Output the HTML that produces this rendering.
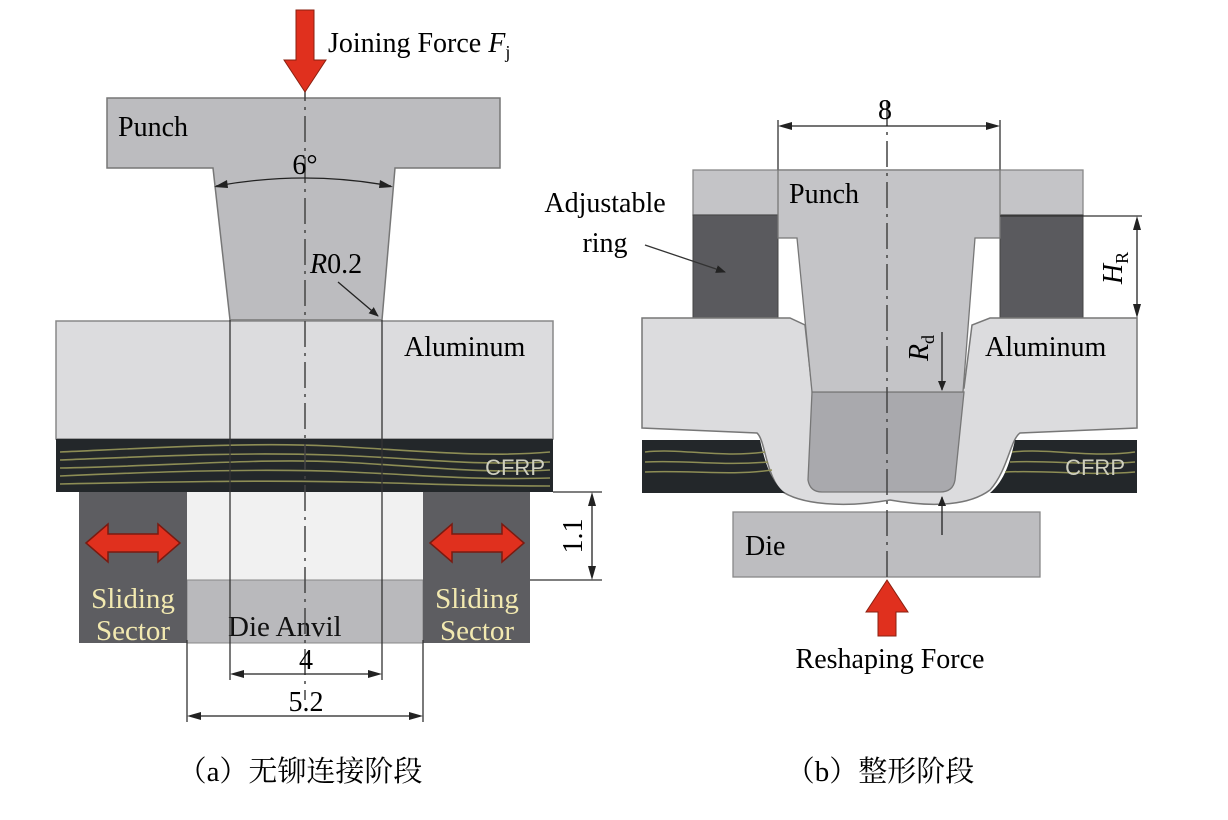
<!DOCTYPE html>
<html><head><meta charset="utf-8"><style>
html,body{margin:0;padding:0;background:#fff;}
svg{display:block;}
text{font-family:"Liberation Serif","Noto Serif CJK SC",serif;}
</style></head><body>
<svg width="1228" height="820" viewBox="0 0 1228 820" xmlns="http://www.w3.org/2000/svg">
<defs>
<marker id="ah" markerWidth="10" markerHeight="8" refX="9" refY="4" orient="auto" markerUnits="userSpaceOnUse"><path d="M0,0 L10,4 L0,8 z" fill="#222"/></marker>
</defs>

<!-- ========== (a) ========== -->
<path d="M107,98 H500 V168 H395 L382,320 H230 L213,168 H107 Z" fill="#bcbcbf" stroke="#777" stroke-width="1.5"/>
<rect x="56" y="321" width="497" height="118" fill="#dcdcde" stroke="#888" stroke-width="1.5"/>
<rect x="56" y="439" width="497" height="53" fill="#23272a"/>
<g stroke="#8d8d55" stroke-width="1.6" fill="none">
<path d="M60,452 C150,448 250,442 330,446 S480,458 550,452"/>
<path d="M60,460 C160,456 240,452 330,455 S470,466 550,462"/>
<path d="M60,468 C170,466 260,458 340,462 S480,474 550,470"/>
<path d="M60,476 C150,472 260,468 350,472 S470,480 550,478"/>
<path d="M60,484 C160,482 260,480 350,482 S470,486 550,486"/>
</g>
<text x="545" y="475" style="font-family:'Liberation Sans',sans-serif" font-size="22" fill="#cfcfbf" text-anchor="end">CFRP</text>
<rect x="187" y="492" width="236" height="88" fill="#f1f1f1"/>
<rect x="187" y="580" width="236" height="63" fill="#b9b9bc" stroke="#888" stroke-width="1"/>
<rect x="79" y="492" width="108" height="151" fill="#5d5d61"/>
<rect x="423" y="492" width="107" height="151" fill="#5d5d61"/>
<g fill="#e0301e" stroke="#7a1a10" stroke-width="1.5">
<path d="M86,543 L108,524 V534 H158 V524 L180,543 L158,562 V552 H108 V562 Z"/>
<path d="M430,543 L452,524 V534 H502 V524 L524,543 L502,562 V552 H452 V562 Z"/>
</g>
<text x="133" y="608" font-size="29" fill="#f2e9b0" text-anchor="middle">Sliding</text>
<text x="133" y="640" font-size="29" fill="#f2e9b0" text-anchor="middle">Sector</text>
<text x="477" y="608" font-size="29" fill="#f2e9b0" text-anchor="middle">Sliding</text>
<text x="477" y="640" font-size="29" fill="#f2e9b0" text-anchor="middle">Sector</text>
<text x="228" y="636" font-size="29" fill="#111">Die Anvil</text>
<g stroke="#333" stroke-width="1.3">
<line x1="230" y1="320" x2="230" y2="680"/>
<line x1="382" y1="320" x2="382" y2="680"/>
<line x1="187" y1="640" x2="187" y2="722"/>
<line x1="423" y1="640" x2="423" y2="722"/>
<line x1="553" y1="492" x2="602" y2="492"/>
<line x1="530" y1="580" x2="602" y2="580"/>
</g>
<line x1="305" y1="75" x2="305" y2="700" stroke="#444" stroke-width="1.5" stroke-dasharray="26,6,3,6"/>
<g stroke="#222" stroke-width="1.3">
<line x1="240" y1="674" x2="372" y2="674" />
<line x1="197" y1="716" x2="413" y2="716"/>
<line x1="592" y1="502" x2="592" y2="570"/>
</g>
<path d="M230,674 L244,670 L244,678 Z M382,674 L368,670 L368,678 Z M187,716 L201,712 L201,720 Z M423,716 L409,712 L409,720 Z M592,492 L588,506 L596,506 Z M592,580 L588,566 L596,566 Z" fill="#222"/>
<text x="306" y="669" font-size="28" text-anchor="middle">4</text>
<text x="306" y="711" font-size="28" text-anchor="middle">5.2</text>
<text transform="translate(582,536) rotate(-90)" font-size="28" text-anchor="middle">1.1</text>
<path d="M216,186 Q305,170 391,186" fill="none" stroke="#222" stroke-width="1.3"/>
<path d="M214,187 L227,180 L228,188 Z M393,187 L380,180 L379,188 Z" fill="#222"/>
<text x="305" y="174" font-size="28" text-anchor="middle">6°</text>
<text x="310" y="273" font-size="28"><tspan font-style="italic">R</tspan>0.2</text>
<line x1="338" y1="282" x2="378" y2="316" stroke="#222" stroke-width="1.3" marker-end="url(#ah)"/>
<text x="118" y="136" font-size="28">Punch</text>
<text x="404" y="356" font-size="28">Aluminum</text>
<path d="M296,10 H314 V60 H326 L305,92 L284,60 H296 Z" fill="#e0301e" stroke="#8a2010" stroke-width="1"/>
<text x="328" y="52" font-size="28">Joining Force <tspan font-style="italic">F</tspan><tspan font-size="18" dy="6">j</tspan></text>

<!-- ========== (b) ========== -->
<rect x="693" y="170" width="390" height="45" fill="#c4c4c7" stroke="#888" stroke-width="1.3"/>
<rect x="693" y="215" width="85" height="105" fill="#5a5a5e" stroke="#444" stroke-width="1"/>
<rect x="1000" y="215" width="83" height="105" fill="#5a5a5e" stroke="#444" stroke-width="1"/>
<rect x="778" y="215" width="222" height="23" fill="#fff"/>
<path d="M642,318 H790 L805,325 L812,388 H964 L972,325 L990,318 H1137 V428 L1020,433 C1010,440 1008,470 990,490 C970,505 935,508 890,500 C845,508 800,505 780,490 C765,470 765,440 757,433 L642,428 Z" fill="#dcdcde" stroke="#777" stroke-width="1.5"/>
<path d="M642,440 H760 C765,462 770,480 785,493 H642 Z" fill="#23272a"/>
<path d="M1137,440 H1015 C1010,462 1005,480 990,493 H1137 Z" fill="#23272a"/>
<g stroke="#8d8d55" stroke-width="1.5" fill="none">
<path d="M645,452 C680,448 720,458 765,452"/><path d="M645,462 C690,460 720,466 768,462"/><path d="M645,472 C690,470 730,476 772,470"/>
<path d="M1012,452 C1050,448 1090,458 1135,452"/><path d="M1010,462 C1050,460 1090,466 1135,462"/><path d="M1005,472 C1050,470 1090,476 1135,472"/>
</g>
<text x="1125" y="475" style="font-family:'Liberation Sans',sans-serif" font-size="22" fill="#cfcfbf" text-anchor="end">CFRP</text>
<path d="M812,392 H964 L955,480 Q953,492 940,492 H822 Q810,492 808,480 Z" fill="#a9a9ad" stroke="#777" stroke-width="1.3"/>
<path d="M778,120 V170 M1000,120 V170" stroke="#333" stroke-width="1.3"/>
<path d="M778,170 H1000 V238 H975 L963,392 H812 L797,238 H778 Z" fill="#c4c4c7" stroke="#777" stroke-width="1.3"/>
<rect x="733" y="512" width="307" height="65" fill="#bdbdc0" stroke="#888" stroke-width="1.3"/>
<line x1="887" y1="100" x2="887" y2="585" stroke="#444" stroke-width="1.5" stroke-dasharray="26,6,3,6"/>
<line x1="790" y1="126" x2="988" y2="126" stroke="#222" stroke-width="1.3"/>
<path d="M778,126 L792,122 L792,130 Z M1000,126 L986,122 L986,130 Z" fill="#222"/>
<text x="885" y="119" font-size="28" text-anchor="middle">8</text>
<line x1="1000" y1="216" x2="1142" y2="216" stroke="#333" stroke-width="1.2"/>
<line x1="1137" y1="228" x2="1137" y2="306" stroke="#222" stroke-width="1.3"/>
<path d="M1137,216 L1133,230 L1141,230 Z M1137,318 L1133,304 L1141,304 Z" fill="#222"/>
<text transform="translate(1122,268) rotate(-90)" font-size="28" text-anchor="middle"><tspan font-style="italic">H</tspan><tspan font-size="18" dy="6">R</tspan></text>
<line x1="942" y1="332" x2="942" y2="390" stroke="#222" stroke-width="1.3" marker-end="url(#ah)"/>
<line x1="942" y1="535" x2="942" y2="497" stroke="#222" stroke-width="1.3" marker-end="url(#ah)"/>
<text transform="translate(928,348) rotate(-90)" font-size="28" text-anchor="middle"><tspan font-style="italic">R</tspan><tspan font-size="18" dy="6">d</tspan></text>
<text x="789" y="203" font-size="28">Punch</text>
<text x="985" y="356" font-size="28">Aluminum</text>
<text x="745" y="555" font-size="28">Die</text>
<text x="605" y="212" font-size="28" text-anchor="middle">Adjustable</text>
<text x="605" y="252" font-size="28" text-anchor="middle">ring</text>
<line x1="645" y1="245" x2="725" y2="272" stroke="#333" stroke-width="1.3" marker-end="url(#ah)"/>
<path d="M878,636 H896 V612 H908 L887,580 L866,612 H878 Z" fill="#e0301e" stroke="#8a2010" stroke-width="1"/>
<text x="890" y="668" font-size="28" text-anchor="middle">Reshaping Force</text>

<text x="300" y="781" font-size="29" text-anchor="middle">（a）无铆连接阶段</text>
<text x="880" y="781" font-size="29" text-anchor="middle">（b）整形阶段</text>
</svg>
</body></html>
